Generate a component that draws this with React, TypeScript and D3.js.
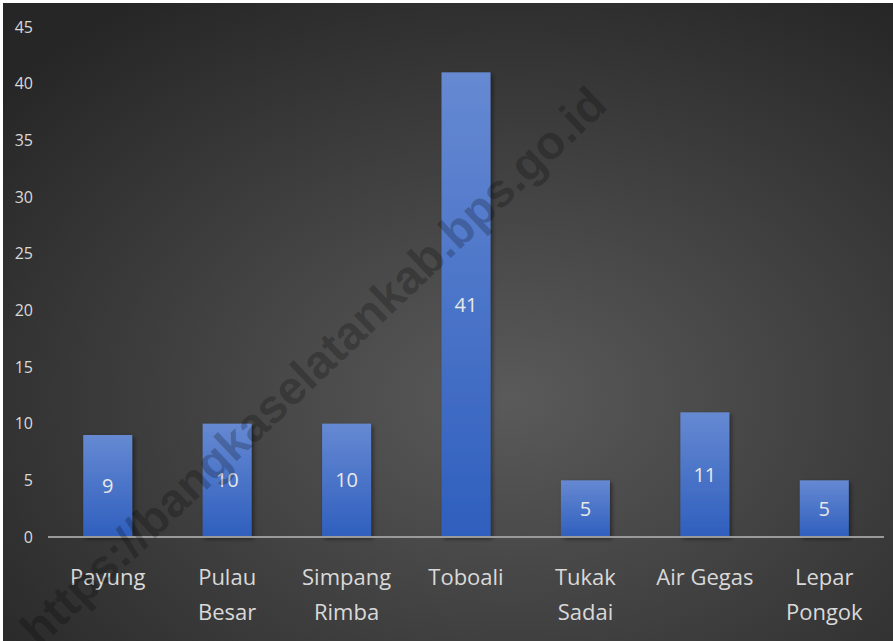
import React, { useRef, useEffect } from 'react';
import * as d3 from 'd3';

// Chart data
const categories = ['Payung', 'Pulau Besar', 'Simpang Rimba', 'Toboali', 'Tukak Sadai', 'Air Gegas', 'Lepar Pongok'];
const values = [9, 10, 10, 41, 5, 11, 5];
const yTicks = [0, 5, 10, 15, 20, 25, 30, 35, 40, 45];
const watermark = 'https://bangkaselatankab.bps.go.id';

const App = () => {
  const chartRef = useRef<HTMLDivElement>(null);

  useEffect(() => {
    document.body.style.margin = '0';
    const width = 893;
    const height = 641;
    const margin = { top: 27, right: 9, bottom: 104, left: 48 };
    const chartWidth = width - margin.left - margin.right;
    const chartHeight = height - margin.top - margin.bottom;

    d3.select(chartRef.current).selectAll('*').remove();

    const root = d3.select(chartRef.current)
      .append('svg')
      .attr('width', width)
      .attr('height', height)
      .style('display', 'block');

    const defs = root.append('defs');

    // background radial gradient
    const bg = defs.append('radialGradient')
      .attr('id', 'bgGrad')
      .attr('cx', '57%').attr('cy', '62%').attr('r', '75%');
    bg.append('stop').attr('offset', '0%').attr('stop-color', '#5a5a5a');
    bg.append('stop').attr('offset', '100%').attr('stop-color', '#262626');

    // bar gradient
    const barGrad = defs.append('linearGradient')
      .attr('id', 'barGrad')
      .attr('x1', 0).attr('y1', 0).attr('x2', 0).attr('y2', 1);
    barGrad.append('stop').attr('offset', '0%').attr('stop-color', '#6689d2');
    barGrad.append('stop').attr('offset', '100%').attr('stop-color', '#2f5fbe');

    const shadow = defs.append('filter').attr('id', 'shadow')
      .attr('x', '-20%').attr('y', '-20%').attr('width', '150%').attr('height', '150%');
    shadow.append('feDropShadow')
      .attr('dx', 2).attr('dy', 2).attr('stdDeviation', 2)
      .attr('flood-color', '#000').attr('flood-opacity', 0.45);

    root.append('rect').attr('width', width).attr('height', height).attr('fill', '#ffffff');
    root.append('rect')
      .attr('x', 3).attr('y', 3)
      .attr('width', width - 3).attr('height', height - 3)
      .attr('fill', 'url(#bgGrad)');

    const svg = root.append('g')
      .attr('transform', `translate(${margin.left},${margin.top})`);

    const x = d3.scaleBand()
      .domain(categories)
      .range([0, chartWidth])
      .paddingInner(0.59)
      .paddingOuter(0.295);

    const y = d3.scaleLinear()
      .domain([0, 45])
      .range([chartHeight, 0]);

    // y tick labels (no axis line)
    svg.selectAll('.ytick')
      .data(yTicks)
      .enter()
      .append('text')
      .attr('class', 'ytick')
      .attr('x', -15)
      .attr('y', d => y(d))
      .attr('dy', '0.35em')
      .attr('text-anchor', 'end')
      .attr('fill', '#d9d9d9')
      .style('font-family', '"Open Sans", sans-serif')
      .style('font-size', '16px')
      .text(d => d);

    // bars
    svg.selectAll('.bar')
      .data(values)
      .enter()
      .append('rect')
      .attr('class', 'bar')
      .attr('x', (d, i) => x(categories[i]) as number)
      .attr('y', d => y(d))
      .attr('width', x.bandwidth())
      .attr('height', d => chartHeight - y(d))
      .attr('fill', 'url(#barGrad)')
      .attr('filter', 'url(#shadow)');

    // baseline
    svg.append('line')
      .attr('x1', 0).attr('x2', chartWidth)
      .attr('y1', chartHeight).attr('y2', chartHeight)
      .attr('stroke', '#9a9a9a')
      .attr('stroke-width', 2);

    // data labels
    svg.selectAll('.val')
      .data(values)
      .enter()
      .append('text')
      .attr('class', 'val')
      .attr('x', (d, i) => (x(categories[i]) as number) + x.bandwidth() / 2)
      .attr('y', d => (y(d) + chartHeight) / 2)
      .attr('dy', '0.35em')
      .attr('text-anchor', 'middle')
      .attr('fill', '#e8e8e8')
      .style('font-family', '"Open Sans", sans-serif')
      .style('font-size', '20px')
      .text(d => d);

    // category labels, wrapped on a space except "Air Gegas"
    categories.forEach(c => {
      const lines = c === 'Air Gegas' ? [c] : c.split(' ');
      const t = svg.append('text')
        .attr('x', (x(c) as number) + x.bandwidth() / 2)
        .attr('y', chartHeight + 40)
        .attr('text-anchor', 'middle')
        .attr('fill', '#d9d9d9')
        .style('font-family', '"Open Sans", sans-serif')
        .style('font-size', '22px');
      lines.forEach((l, j) => {
        t.append('tspan')
          .attr('x', (x(c) as number) + x.bandwidth() / 2)
          .attr('dy', j === 0 ? '0.35em' : 35)
          .text(l);
      });
    });

    // watermark
    root.append('text')
      .attr('transform', 'translate(313,366) rotate(-43.5)')
      .attr('text-anchor', 'middle')
      .attr('dy', '0.35em')
      .attr('fill', '#000')
      .attr('fill-opacity', 0.24)
      .style('font-family', '"Liberation Sans", Arial, sans-serif')
      .style('font-weight', 'bold')
      .style('font-size', '47px')
      .text(watermark);
  }, []);

  return <div ref={chartRef}></div>;
};

export default App;
